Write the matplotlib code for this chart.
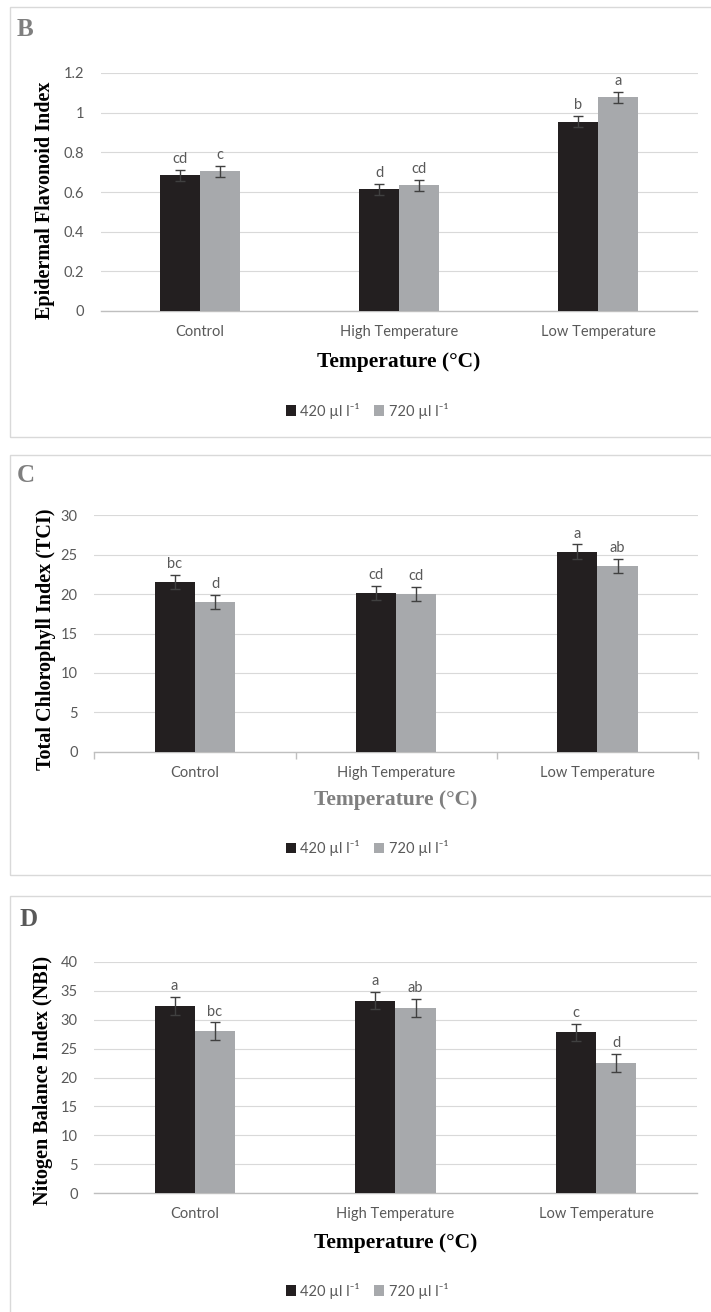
import matplotlib
matplotlib.use("Agg")
import matplotlib.pyplot as plt
from matplotlib.patches import Rectangle, Patch
import numpy as np

plt.rcParams['font.family'] = ['Lato', 'DejaVu Sans']

categories = ["Control", "High Temperature", "Low Temperature"]
series_names = ["420 µl l⁻¹", "720 µl l⁻¹"]

# Panel B: Epidermal Flavonoid Index
b_420 = [0.685, 0.613, 0.954]
b_720 = [0.704, 0.635, 1.078]
b_err_420 = [0.028, 0.028, 0.028]
b_err_720 = [0.028, 0.028, 0.028]
b_let_420 = ["cd", "d", "b"]
b_let_720 = ["c", "cd", "a"]

# Panel C: Total Chlorophyll Index
c_420 = [21.5, 20.1, 25.4]
c_720 = [18.95, 19.97, 23.52]
c_err_420 = [0.9, 0.9, 0.9]
c_err_720 = [0.9, 0.9, 0.9]
c_let_420 = ["bc", "cd", "a"]
c_let_720 = ["d", "cd", "ab"]

# Panel D: Nitrogen Balance Index
d_420 = [32.35, 33.26, 27.8]
d_720 = [28.0, 32.0, 22.5]
d_err_420 = [1.5, 1.5, 1.5]
d_err_720 = [1.5, 1.5, 1.5]
d_let_420 = ["a", "a", "c"]
d_let_720 = ["bc", "ab", "d"]

W, H = 711, 1312
fig = plt.figure(figsize=(W / 100, H / 100), dpi=100)

C_DARK = "#231f20"
C_GRAY = "#a7a9ac"
TXT = "#595959"


def fx(x):
    return x / W


def fy(y):
    return 1 - y / H


def panel(box, label, label_pos, label_color, ax_px, ymax, ystep, v1, v2, e1, e2, l1, l2,
          ylabel, ylabel_xy, xlab_y, xlab_color, leg_y, cat_ticks):
    bx0, by0, bx1, by1 = box
    fig.patches.append(Rectangle((fx(bx0), fy(by1)), fx(bx1 - bx0), (by1 - by0) / H,
                                 transform=fig.transFigure, fill=False,
                                 edgecolor="#d9d9d9", lw=1.0))
    fig.text(fx(label_pos[0]), fy(label_pos[1]), label, family="Liberation Serif",
             fontweight="bold", fontsize=18, color=label_color, ha="center", va="center")
    l, r, t, b = ax_px
    ax = fig.add_axes([fx(l), fy(b), fx(r - l), (b - t) / H])
    x = np.arange(len(categories))
    w = 0.2
    ekw = dict(ecolor="#404040", elinewidth=1.0, capthick=1.0)
    ax.bar(x - w / 2, v1, w, color=C_DARK, yerr=e1, capsize=3.5, error_kw=ekw, zorder=3)
    ax.bar(x + w / 2, v2, w, color=C_GRAY, yerr=e2, capsize=3.5, error_kw=ekw, zorder=3)
    for xi, v, e, s in zip(x - w / 2, v1, e1, l1):
        ax.annotate(s, (xi, v + e), xytext=(0, 5), textcoords="offset points",
                    ha="center", va="baseline", fontsize=10.5, color=TXT)
    for xi, v, e, s in zip(x + w / 2, v2, e2, l2):
        ax.annotate(s, (xi, v + e), xytext=(0, 5), textcoords="offset points",
                    ha="center", va="baseline", fontsize=10.5, color=TXT)
    ax.set_xlim(-0.5, 2.5)
    ax.set_ylim(0, ymax)
    yt = np.arange(0, ymax + ystep / 2, ystep)
    ax.set_yticks(yt)
    ax.set_yticklabels([f"{v:g}" for v in yt])
    ax.yaxis.grid(True, color="#d9d9d9", lw=0.8, zorder=0)
    ax.set_axisbelow(True)
    for s in ["top", "right", "left"]:
        ax.spines[s].set_visible(False)
    ax.spines["bottom"].set_color("#bfbfbf")
    ax.spines["bottom"].set_linewidth(1.0)
    ax.set_xticks(x)
    ax.set_xticklabels(categories)
    ax.tick_params(axis="x", length=0, pad=10, labelsize=10.5, labelcolor=TXT)
    ax.tick_params(axis="y", length=0, pad=12, labelsize=10.5, labelcolor=TXT)
    if cat_ticks:
        ax.set_xticks([-0.5, 0.5, 1.5, 2.5], minor=True)
        ax.tick_params(axis="x", which="minor", length=5, color="#bfbfbf", width=1.0)
    fig.text(fx(ylabel_xy[0]), fy(ylabel_xy[1]), ylabel, rotation=90, family="Liberation Serif",
             fontweight="bold", fontsize=14.5, color="black", ha="center", va="center")
    fig.text(fx((l + r) / 2), fy(xlab_y), "Temperature (°C)", family="Liberation Serif",
             fontweight="bold", fontsize=15.5, color=xlab_color, ha="center", va="center")
    handles = [Patch(facecolor=C_DARK, edgecolor="none"), Patch(facecolor=C_GRAY, edgecolor="none")]
    leg = fig.legend(handles, series_names, loc="center", bbox_to_anchor=(fx(367), fy(leg_y)),
                     ncol=2, frameon=False, handlelength=0.7, handleheight=0.7,
                     handletextpad=0.3, columnspacing=1.0, fontsize=10.5)
    for txt in leg.get_texts():
        txt.set_color(TXT)
    return ax


panel((10, 7, 716, 437), "B", (25, 30), "#7f7f7f", (100.7, 697.5, 73, 311), 1.2, 0.2,
      b_420, b_720, b_err_420, b_err_720, b_let_420, b_let_720,
      "Epidermal Flavonoid Index", (45, 200), 362, "black", 410.7, False)

panel((10, 455, 716, 875), "C", (26, 476), "#7f7f7f", (94.3, 698, 515.3, 751.7), 30, 5,
      c_420, c_720, c_err_420, c_err_720, c_let_420, c_let_720,
      "Total Chlorophyll Index (TCI)", (46.5, 639), 800, "#7f7f7f", 848, True)

panel((10, 896, 716, 1330), "D", (29, 919), "#595959", (94.3, 696.6, 961.7, 1193.3), 40, 5,
      d_420, d_720, d_err_420, d_err_720, d_let_420, d_let_720,
      "Nitogen Balance Index (NBI)", (43, 1080), 1242.7, "black", 1290.7, False)

fig.savefig("out.png", dpi=100, facecolor="white")
